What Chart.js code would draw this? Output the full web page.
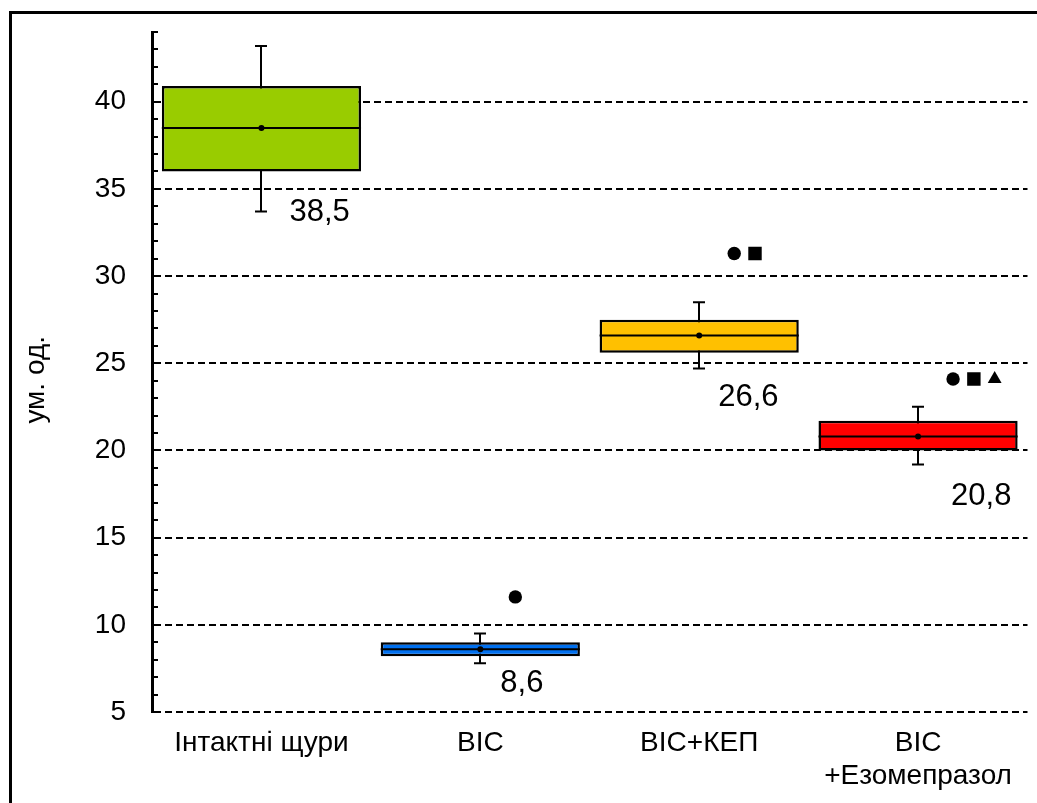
<!DOCTYPE html>
<html lang="uk">
<head>
<meta charset="utf-8">
<title>ум. од.</title>
<script src="https://cdn.jsdelivr.net/npm/chart.js@4.4.1/dist/chart.umd.min.js"></script>
<style>
  html, body { margin: 0; padding: 0; background: #fff; overflow: hidden; }
  #myChart { position: absolute; left: 0; top: 0; }
  /* rama navkolo grafika: vydno lyshe verkh i liviy bik */
  #frame { position: absolute; left: 9px; top: 11px; width: 1100px; height: 900px;
           border-top: 3px solid #000; border-left: 3px solid #000; pointer-events: none; }
</style>
</head>
<body>
<canvas id="myChart" width="1037" height="803"></canvas>
<div id="frame"></div>
<script>
// Dani z malyunka
const categories = ['Інтактні щури', 'ВІС', 'ВІС+КЕП', ['ВІС', '+Езомепразол']];
const whiskerLow = [33.7, 7.8, 24.7, 19.2];
const q1 = [36.0, 8.2, 25.6, 20.0];
const medians = [38.5, 8.6, 26.6, 20.8];
const q3 = [40.9, 9.0, 27.5, 21.7];
const whiskerHigh = [43.2, 9.5, 28.5, 22.5];
const means = [38.5, 8.6, 26.6, 20.8];
const signifLevel = [null, 11.6, 31.3, 24.1];
const signifMarks = [[], ['circle'], ['circle', 'rect'], ['circle', 'rect', 'triangle']];
const yTickValues = [5, 10, 15, 20, 25, 30, 35, 40];
const yMin = 5;
const yMax = 44;

// Styli
const boxColors = ['#99CC00', '#0070F0', '#FFC000', '#FF0000'];
const labelShift = [[28, 1], [20, 20], [19, 29], [33, 32]]; // px vid tsentru / nyzhnyoho vusa
const markStart = 0.16;
const markStep = 0.095;
const markRadius = { circle: 6.7, rect: 9.5, triangle: 8 };
const fontFamily = '"Liberation Sans", Arial, sans-serif';

Chart.defaults.font.family = fontFamily;
Chart.defaults.color = '#000';

// Tochky znachushchosti (kruzhok, kvadrat, trykutnyk) poruch z boksom
const markPoints = [];
const markStyles = [];
const markRadii = [];
signifMarks.forEach(function(marks, i) {
  marks.forEach(function(style, j) {
    markPoints.push({ x: i + markStart + j * markStep, y: signifLevel[i] });
    markStyles.push(style);
    markRadii.push(markRadius[style]);
  });
});

function formatValue(v) {
  return v.toFixed(1).replace('.', ',');
}

// Vusa, mediana ta pidpysy
const boxPlotExtras = {
  id: 'boxPlotExtras',
  beforeDatasetsDraw(chart) {
    const ctx = chart.ctx;
    const x = chart.scales.x;
    const y = chart.scales.y;
    ctx.save();
    ctx.strokeStyle = '#000';
    ctx.lineWidth = 2;
    categories.forEach(function(c, i) {
      const cx = Math.round(x.getPixelForValue(i));
      const top = y.getPixelForValue(whiskerHigh[i]);
      const bottom = y.getPixelForValue(whiskerLow[i]);
      ctx.beginPath();
      ctx.moveTo(cx, top);
      ctx.lineTo(cx, bottom);
      ctx.moveTo(cx - 6, top);
      ctx.lineTo(cx + 6, top);
      ctx.moveTo(cx - 6, bottom);
      ctx.lineTo(cx + 6, bottom);
      ctx.stroke();
    });
    ctx.restore();
  },
  afterDatasetDraw(chart, args) {
    if (args.index !== 0) return;
    const ctx = chart.ctx;
    const y = chart.scales.y;
    ctx.save();
    ctx.strokeStyle = '#000';
    ctx.lineWidth = 2;
    args.meta.data.forEach(function(bar, i) {
      const half = bar.width / 2;
      const my = y.getPixelForValue(medians[i]);
      ctx.beginPath();
      ctx.moveTo(bar.x - half, my);
      ctx.lineTo(bar.x + half, my);
      ctx.stroke();
    });
    ctx.restore();
  },
  afterDraw(chart) {
    const ctx = chart.ctx;
    const x = chart.scales.x;
    const y = chart.scales.y;
    ctx.save();
    ctx.fillStyle = '#000';
    ctx.font = '31px ' + fontFamily;
    ctx.textAlign = 'left';
    ctx.textBaseline = 'middle';
    means.forEach(function(m, i) {
      const tx = x.getPixelForValue(i) + labelShift[i][0];
      const ty = y.getPixelForValue(whiskerLow[i]) + labelShift[i][1];
      ctx.fillText(formatValue(m), tx, ty);
    });
    ctx.restore();
  }
};

const config = {
  type: 'bar',
  data: {
    labels: categories,
    datasets: [
      {
        type: 'bar',
        xAxisID: 'x',
        yAxisID: 'y',
        data: categories.map(function(c, i) { return [q1[i], q3[i]]; }),
        backgroundColor: boxColors,
        borderColor: '#000',
        borderWidth: 2.5,
        borderSkipped: false,
        grouped: false,
        barPercentage: 0.91,
        categoryPercentage: 1,
        order: 3
      },
      {
        type: 'line',
        xAxisID: 'x',
        yAxisID: 'y',
        data: means,
        showLine: false,
        pointRadius: 3,
        pointBackgroundColor: '#000',
        pointBorderWidth: 0,
        order: 1
      },
      {
        type: 'scatter',
        xAxisID: 'xm',
        yAxisID: 'y',
        data: markPoints,
        pointStyle: markStyles,
        pointRadius: markRadii,
        pointBackgroundColor: '#000',
        pointBorderWidth: 0,
        order: 1
      }
    ]
  },
  options: {
    responsive: false,
    animation: false,
    devicePixelRatio: 1,
    events: [],
    layout: { padding: { left: 0, top: 32, right: 9, bottom: 0 } },
    plugins: {
      legend: { display: false },
      tooltip: { enabled: false }
    },
    scales: {
      x: {
        offset: true,
        grid: { display: false, drawTicks: false },
        border: { display: false },
        ticks: { color: '#000', font: { size: 28 }, padding: 14, maxRotation: 0, autoSkip: false },
        afterFit: function(scale) {
          scale.height = 91;
          scale.paddingLeft = 0;
          scale.paddingRight = 0;
        }
      },
      // prykhovana vis' dlya symvoliv znachushchosti
      xm: { type: 'linear', axis: 'x', display: false, offset: false, min: -0.5, max: 3.5 },
      y: {
        min: yMin,
        max: yMax,
        ticks: {
          stepSize: 1,
          autoSkip: false,
          color: '#000',
          font: { size: 28 },
          padding: 32,
          callback: function(v) { return yTickValues.includes(v) ? String(v) : ''; }
        },
        grid: {
          color: function(ctx) { return ctx.tick && yTickValues.includes(ctx.tick.value) ? '#000' : 'rgba(0,0,0,0)'; },
          lineWidth: 2,
          tickLength: -6,
          tickColor: '#000',
          tickWidth: 2
        },
        border: { color: '#000', width: 3, dash: [7, 4] },
        title: {
          display: true,
          text: 'ум. од.  ',
          color: '#000',
          font: { size: 28 },
          padding: { top: 19, bottom: 0 }
        },
        afterFit: function(scale) {
          scale.width = 152;
          scale.paddingTop = 0;
          scale.paddingBottom = 0;
        }
      }
    }
  },
  plugins: [boxPlotExtras]
};

const myChart = new Chart(document.getElementById('myChart'), config);
</script>
</body>
</html>
